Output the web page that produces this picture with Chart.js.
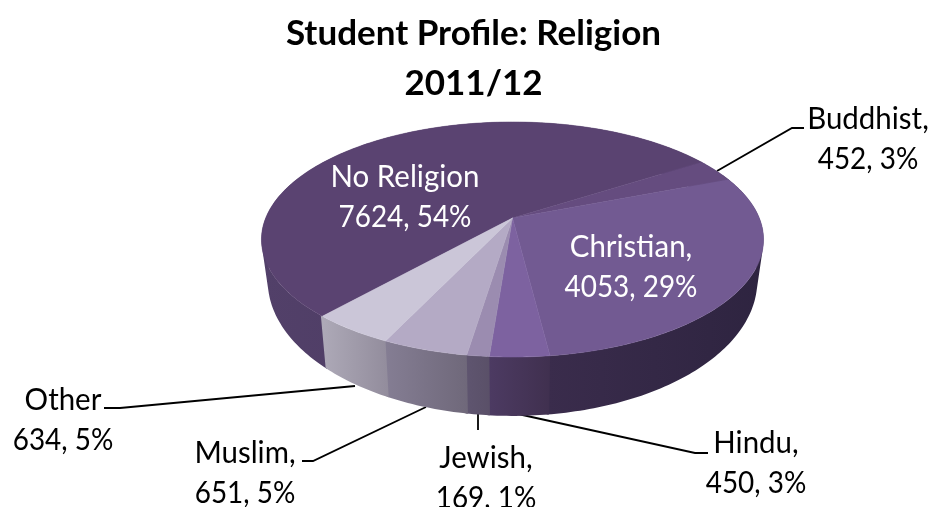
<!DOCTYPE html>
<html>
<head>
<meta charset="utf-8">
<title>Student Profile: Religion</title>
<script src="https://cdn.jsdelivr.net/npm/chart.js@4"></script>
<style>
  html, body { margin: 0; padding: 0; background: #fff; overflow: hidden; }
  canvas { display: block; }
</style>
</head>
<body>
<canvas id="chart" width="931" height="507"></canvas>
<script>
const categories = ["No Religion", "Buddhist", "Christian", "Hindu", "Jewish", "Muslim", "Other"];
const students = [7624, 452, 4053, 450, 169, 651, 634];
const titleLines = ["Student Profile: Religion", "2011/12"];

const topColors = ["#5a4371", "#654c7f", "#725a92", "#7d62a0", "#9b8cb0", "#b4aac5", "#cbc6d8"];
const wallLeft = ["#524069", "#3f3052", "#3a2c4c", "#4d3b63", "#5f5570", "#857e94", "#aeaab8"];
const wallRight = ["#46365c", "#3f3052", "#2e2440", "#40304f", "#5a5068", "#6f687a", "#928c9c"];

// name line of each label has its own punctuation
const nameLines = ["No Religion", "Buddhist,", "Christian,", "Hindu,", "Jewish,", "Muslim,", "Other"];
const labelX = [405, 868, 631, 756, 486, 245, 63];
const labelY = [177, 119, 247, 443, 458, 453, 400];
const labelInk = ["#fff", "#000", "#fff", "#000", "#000", "#000", "#000"];
const leaders = [
  null,
  [[804, 128], [792, 128], [717, 171]],
  null,
  [[708, 453], [695, 453], [518, 414]],
  [[478, 430], [478, 412]],
  [[302, 461], [313, 461], [426, 407]],
  [[104, 408], [120, 408], [355, 386]]
];

// perspective of the disc: unit circle -> tilted ellipse around the apex
const disc = { x: 512.5, y: 218, a: 246.8, b: 113.6, k: -0.183 };
const rim = { scaleX: 0.975, scaleY: 1.15, drop: 38 };

function project(angle, level) {
  const u = Math.cos(angle);
  const v = Math.sin(angle);
  const w = 1 + disc.k * v;
  return {
    x: disc.x + (level ? rim.scaleX : 1) * disc.a * u / w,
    y: disc.y + (level ? rim.drop : 0) + (level ? rim.scaleY : 1) * disc.b * v / w
  };
}

function arcPoints(start, end, level) {
  const steps = Math.max(2, Math.ceil((end - start) * 60));
  const pts = [];
  for (let i = 0; i <= steps; i++) {
    pts.push(project(start + (end - start) * i / steps, level));
  }
  return pts;
}

function trace(ctx, pts) {
  pts.forEach((p) => ctx.lineTo(p.x, p.y));
}

// signed area, used to keep every wall strip wound the same way
function winding(q) {
  let area = 0;
  q.forEach((p, i) => {
    const next = q[(i + 1) % q.length];
    area += p.x * next.y - next.x * p.y;
  });
  return area;
}

const pie3d = {
  id: "pie3d",
  // the flat arcs are replaced by the projected disc below
  beforeDatasetDraw(chart) {
    const ctx = chart.ctx;
    const arcs = chart.getDatasetMeta(0).data;

    // leader lines sit behind the disc
    ctx.save();
    ctx.strokeStyle = "#000";
    ctx.lineWidth = 1.8;
    leaders.forEach((line) => {
      if (!line) return;
      ctx.beginPath();
      line.forEach((p) => ctx.lineTo(p[0], p[1]));
      ctx.stroke();
    });

    // side wall, strip by strip so the silhouette follows both rims.
    // Each wall runs slightly under the next one to avoid a pale seam.
    arcs.forEach((arc, i) => {
      const upper = arcPoints(arc.startAngle, arc.endAngle + 0.008, 0);
      const lower = arcPoints(arc.startAngle, arc.endAngle + 0.008, 1);
      const xs = upper.concat(lower).map((p) => p.x);
      const grad = ctx.createLinearGradient(Math.min(...xs), 0, Math.max(...xs), 0);
      grad.addColorStop(0, wallLeft[i]);
      grad.addColorStop(1, wallRight[i]);
      ctx.fillStyle = grad;
      ctx.beginPath();
      for (let n = 0; n < upper.length - 1; n++) {
        const quad = [upper[n], upper[n + 1], lower[n + 1], lower[n]];
        if (winding(quad) < 0) quad.reverse();
        ctx.moveTo(quad[0].x, quad[0].y);
        trace(ctx, quad.slice(1));
        ctx.closePath();
      }
      ctx.fill();
    });

    // top face
    arcs.forEach((arc) => {
      ctx.fillStyle = arc.options.backgroundColor;
      ctx.strokeStyle = arc.options.backgroundColor;
      ctx.lineWidth = 0.5;
      ctx.beginPath();
      ctx.moveTo(disc.x, disc.y);
      trace(ctx, arcPoints(arc.startAngle, arc.endAngle, 0));
      ctx.closePath();
      ctx.fill();
      ctx.stroke();
    });

    // value labels, Lato squeezed to the narrower set width
    const total = students.reduce((sum, n) => sum + n, 0);
    ctx.font = "31px Lato";
    ctx.textAlign = "center";
    ctx.textBaseline = "middle";
    categories.forEach((name, i) => {
      const pct = Math.round(students[i] / total * 100);
      const figures = students[i] + ", " + pct + "%";
      ctx.fillStyle = labelInk[i];
      ctx.fillText(nameLines[i], labelX[i], labelY[i], ctx.measureText(nameLines[i]).width * 0.95);
      ctx.fillText(figures, labelX[i], labelY[i] + 40, ctx.measureText(figures).width * 0.9);
    });
    ctx.restore();
    return false;
  }
};

new Chart(document.getElementById("chart"), {
  type: "pie",
  data: {
    labels: categories,
    datasets: [{ data: students, backgroundColor: topColors, borderWidth: 0 }]
  },
  options: {
    responsive: false,
    animation: false,
    rotation: 221.7,
    layout: { padding: { left: 16, top: 0 } },
    plugins: {
      legend: { display: false },
      tooltip: { enabled: false },
      title: {
        display: true,
        text: titleLines,
        color: "#000",
        padding: { top: 9, bottom: 0 },
        font: { family: "Lato", size: 35, weight: "bold", lineHeight: 1.43 }
      }
    }
  },
  plugins: [pie3d]
});
</script>
</body>
</html>
